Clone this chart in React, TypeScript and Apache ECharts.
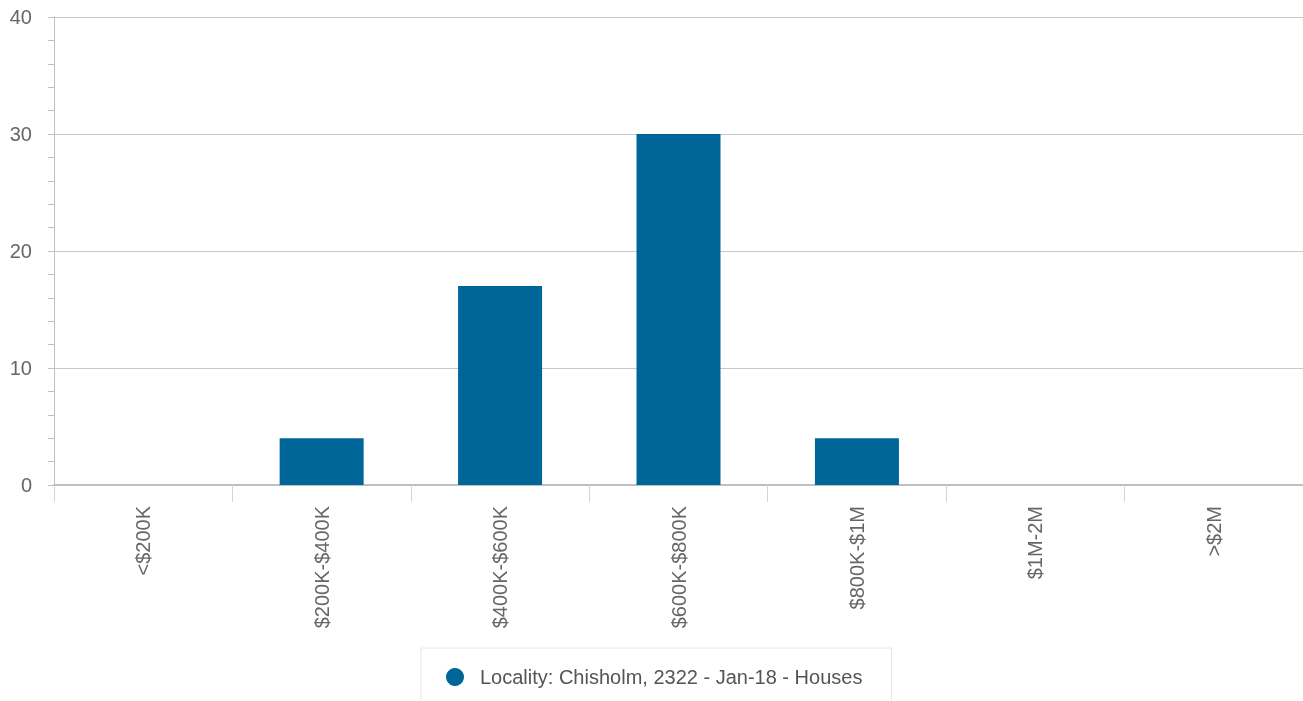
import React, { useEffect, useRef } from "react";
import * as echarts from "echarts";

const categories = ["<$200K", "$200K-$400K", "$400K-$600K", "$600K-$800K", "$800K-$1M", "$1M-2M", ">$2M"];
const values = [0, 4, 17, 30, 4, 0, 0];
const seriesName = "Locality: Chisholm, 2322 - Jan-18 - Houses";
const yMin = 0;
const yMax = 40;
const yInterval = 10;

const FONT = '"Liberation Sans", Arial, Helvetica, sans-serif';
const BAR = "#006699";

export default function App() {
  const ref = useRef<HTMLDivElement>(null);
  useEffect(() => {
    if (!ref.current) return;
    const chart = echarts.init(ref.current, undefined, { renderer: "svg" });
    chart.setOption({
      animation: false,
      textStyle: { fontFamily: FONT },
      grid: { left: 54, right: 0, top: 17, bottom: 216, containLabel: false },
      legend: {
        data: [seriesName],
        left: 421,
        top: 648,
        padding: [19, 29, 19, 25],
        borderColor: "#e6e6e6",
        borderWidth: 1,
        icon: "circle",
        itemWidth: 18,
        itemHeight: 18,
        textStyle: { color: "#555", fontSize: 20, fontFamily: FONT, padding: [0, 0, 0, 11] },
      },
      xAxis: {
        type: "category",
        data: categories,
        boundaryGap: true,
        axisLine: { show: true, lineStyle: { color: "#c0c0c0", width: 2 } },
        axisTick: { show: true, length: 17, lineStyle: { color: "#ccd6eb", width: 1 } },
        axisLabel: { rotate: 90, color: "#666", fontSize: 20, fontFamily: FONT, margin: 21, interval: 0 },
        splitLine: { show: false },
      },
      yAxis: {
        type: "value",
        min: yMin,
        max: yMax,
        interval: yInterval,
        axisLine: { show: true, lineStyle: { color: "#c0c0c0", width: 1 } },
        axisTick: { show: true, length: 6, lineStyle: { color: "#c0c0c0" } },
        minorTick: { show: true, splitNumber: 5, length: 6, lineStyle: { color: "#c0c0c0" } },
        axisLabel: { color: "#666", fontSize: 20, fontFamily: FONT, margin: 22 },
        splitLine: { show: true, lineStyle: { color: "#c8c8c8", width: 1 } },
      },
      series: [
        {
          name: seriesName,
          type: "bar",
          data: values,
          barWidth: 84,
          itemStyle: { color: BAR },
        },
      ],
    });
    return () => chart.dispose();
  }, []);
  return <div ref={ref} style={{ position: "fixed", left: 0, top: 0, width: 1303, height: 701 }} />;
}
